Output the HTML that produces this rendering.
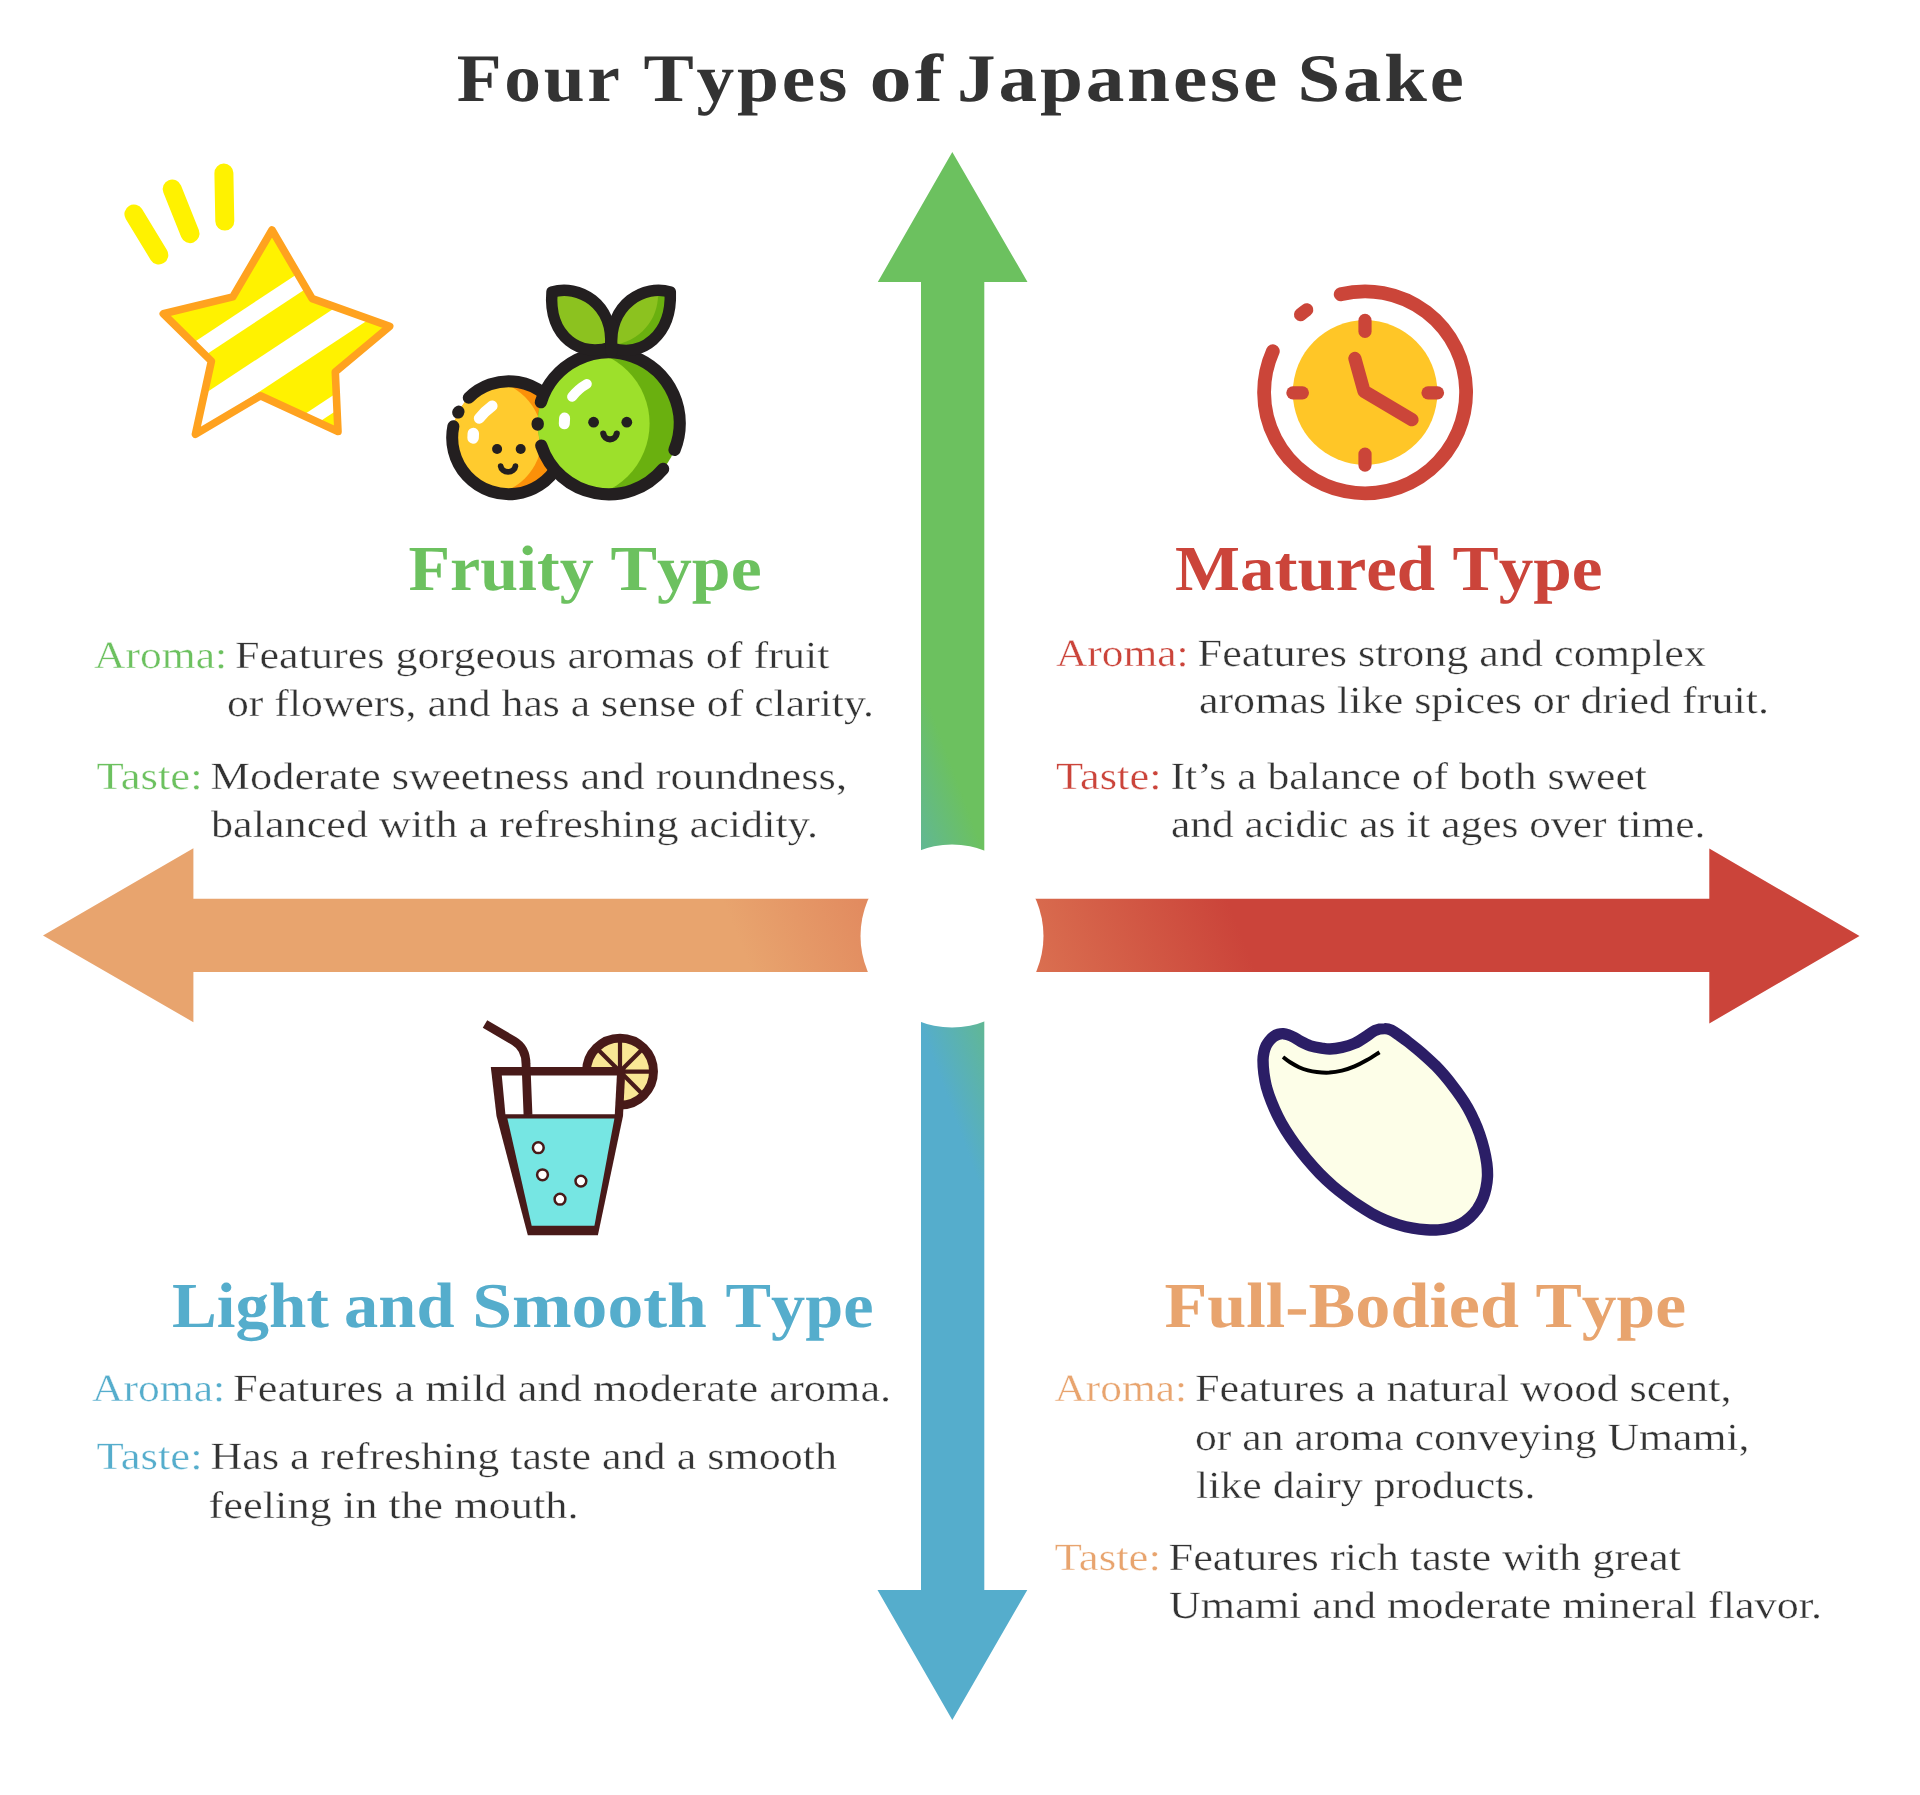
<!DOCTYPE html>
<html><head><meta charset="utf-8"><title>Four Types of Japanese Sake</title>
<style>
html,body{margin:0;padding:0;background:#fff;}
body{width:1920px;height:1795px;overflow:hidden;font-family:"Liberation Serif",serif;}
svg{display:block;}
text{font-family:"Liberation Serif",serif;text-rendering:geometricPrecision;}
.b{font-weight:bold;}
.t{stroke:#fff;stroke-width:0.35px;}
</style></head><body>
<svg width="1920" height="1795" viewBox="0 0 1920 1795">
<defs>
<linearGradient id="gv" gradientUnits="userSpaceOnUse" x1="1007.4" y1="915.5" x2="895.0" y2="957.1"><stop offset="0" stop-color="#6cc15f"/><stop offset="1" stop-color="#55adcc"/></linearGradient>
<linearGradient id="gh" gradientUnits="userSpaceOnUse" x1="766.7" y1="1010.1" x2="1202.0" y2="836.0"><stop offset="0" stop-color="#e8a46e"/><stop offset="0.45" stop-color="#de7b56"/><stop offset="1" stop-color="#cb443a"/></linearGradient>
<clipPath id="cstar"><polygon points="272.0,230.0 312.2,298.7 389.7,326.3 335.3,371.8 338.0,431.5 260.5,395.8 195.4,434.2 211.4,361.1 163.3,313.8 232.8,296.9"/></clipPath>
<clipPath id="cyel"><circle cx="508.7" cy="437.7" r="56.5"/></clipPath>
<clipPath id="cgrn"><circle cx="608.7" cy="423.3" r="71"/></clipPath>
<clipPath id="cleafR"><path d="M611.5,348 C609,303 645,284 670.3,292 C672,335 642,358 611.5,348 Z"/></clipPath>
</defs>
<mask id="mc"><rect x="0" y="0" width="1920" height="1795" fill="#fff"/><circle cx="952" cy="936" r="91.5" fill="#000"/></mask>
<g mask="url(#mc)">
<polygon fill="url(#gv)" points="952.3,152 1027.5,282 984.3,282 984.3,1590 1027.3,1590 952.3,1720 877.5,1590 921,1590 921,282 877.8,282"/>
<polygon fill="url(#gh)" points="43,935.5 193.4,848.3 193.4,898.7 1709.3,898.7 1709.3,848.5 1859.5,936 1709.3,1023.5 1709.3,972 193.4,972 193.4,1022.2"/>
</g>
<g opacity="0.999">
<text x="456.8" y="101.0" font-size="68.0" fill="#333333" class="b" textLength="165.8" lengthAdjust="spacingAndGlyphs" style="font-kerning:none" letter-spacing="2.5">Four</text>
<text x="643.5" y="101.0" font-size="68.0" fill="#333333" class="b" textLength="206.5" lengthAdjust="spacingAndGlyphs" style="font-kerning:none" letter-spacing="2.5">Types</text>
<text x="869.6" y="101.0" font-size="68.0" fill="#333333" class="b" textLength="76.4" lengthAdjust="spacingAndGlyphs" style="font-kerning:none" letter-spacing="2.5">of</text>
<text x="957.0" y="101.0" font-size="68.0" fill="#333333" class="b" textLength="323.0" lengthAdjust="spacingAndGlyphs" style="font-kerning:none" letter-spacing="2.5">Japanese</text>
<text x="1297.5" y="101.0" font-size="68.0" fill="#333333" class="b" textLength="169.0" lengthAdjust="spacingAndGlyphs" style="font-kerning:none" letter-spacing="2.5">Sake</text>
<text x="408.4" y="589.6" font-size="64.0" fill="#6cc15f" class="b" textLength="185.3" lengthAdjust="spacingAndGlyphs" style="font-kerning:none">Fruity</text>
<text x="610.5" y="589.6" font-size="64.0" fill="#6cc15f" class="b" textLength="151.1" lengthAdjust="spacingAndGlyphs" style="font-kerning:none">Type</text>
<text x="1175.1" y="589.6" font-size="64.0" fill="#cb443a" class="b" textLength="260.0" lengthAdjust="spacingAndGlyphs" style="font-kerning:none">Matured</text>
<text x="1452.5" y="589.6" font-size="64.0" fill="#cb443a" class="b" textLength="150.1" lengthAdjust="spacingAndGlyphs" style="font-kerning:none">Type</text>
<text x="172.1" y="1326.6" font-size="64.0" fill="#55adcc" class="b" textLength="156.7" lengthAdjust="spacingAndGlyphs" style="font-kerning:none">Light</text>
<text x="344.1" y="1326.6" font-size="64.0" fill="#55adcc" class="b" textLength="110.4" lengthAdjust="spacingAndGlyphs" style="font-kerning:none">and</text>
<text x="472.2" y="1326.6" font-size="64.0" fill="#55adcc" class="b" textLength="234.6" lengthAdjust="spacingAndGlyphs" style="font-kerning:none">Smooth</text>
<text x="725.5" y="1326.6" font-size="64.0" fill="#55adcc" class="b" textLength="148.1" lengthAdjust="spacingAndGlyphs" style="font-kerning:none">Type</text>
<text x="1164.4" y="1326.6" font-size="64.0" fill="#e8a46e" class="b" textLength="354.6" lengthAdjust="spacingAndGlyphs" style="font-kerning:none">Full-Bodied</text>
<text x="1535.5" y="1326.6" font-size="64.0" fill="#e8a46e" class="b" textLength="150.6" lengthAdjust="spacingAndGlyphs" style="font-kerning:none">Type</text>
<text x="94.1" y="667.7" font-size="38.5" fill="#6cc15f" class="t" textLength="133.0" lengthAdjust="spacingAndGlyphs" >Aroma:</text>
<text x="235.0" y="667.7" font-size="38.5" fill="#333333" class="t" textLength="594.5" lengthAdjust="spacingAndGlyphs" >Features gorgeous aromas of fruit</text>
<text x="227.0" y="715.8" font-size="38.5" fill="#333333" class="t" textLength="647.0" lengthAdjust="spacingAndGlyphs" >or flowers, and has a sense of clarity.</text>
<text x="96.5" y="789.3" font-size="38.5" fill="#6cc15f" class="t" textLength="106.1" lengthAdjust="spacingAndGlyphs" >Taste:</text>
<text x="210.5" y="789.3" font-size="38.5" fill="#333333" class="t" textLength="636.5" lengthAdjust="spacingAndGlyphs" >Moderate sweetness and roundness,</text>
<text x="211.0" y="837.4" font-size="38.5" fill="#333333" class="t" textLength="607.0" lengthAdjust="spacingAndGlyphs" >balanced with a refreshing acidity.</text>
<text x="1056.0" y="665.7" font-size="38.5" fill="#cb443a" class="t" textLength="132.5" lengthAdjust="spacingAndGlyphs" >Aroma:</text>
<text x="1197.6" y="665.7" font-size="38.5" fill="#333333" class="t" textLength="508.4" lengthAdjust="spacingAndGlyphs" >Features strong and complex</text>
<text x="1198.9" y="713.3" font-size="38.5" fill="#333333" class="t" textLength="570.1" lengthAdjust="spacingAndGlyphs" >aromas like spices or dried fruit.</text>
<text x="1056.0" y="789.4" font-size="38.5" fill="#cb443a" class="t" textLength="105.5" lengthAdjust="spacingAndGlyphs" >Taste:</text>
<text x="1170.5" y="789.4" font-size="38.5" fill="#333333" class="t" textLength="476.5" lengthAdjust="spacingAndGlyphs" >It’s a balance of both sweet</text>
<text x="1171.0" y="837.2" font-size="38.5" fill="#333333" class="t" textLength="534.5" lengthAdjust="spacingAndGlyphs" >and acidic as it ages over time.</text>
<text x="92.0" y="1401.3" font-size="38.5" fill="#55adcc" class="t" textLength="133.1" lengthAdjust="spacingAndGlyphs" >Aroma:</text>
<text x="233.0" y="1401.3" font-size="38.5" fill="#333333" class="t" textLength="658.2" lengthAdjust="spacingAndGlyphs" >Features a mild and moderate aroma.</text>
<text x="96.5" y="1469.3" font-size="38.5" fill="#55adcc" class="t" textLength="106.1" lengthAdjust="spacingAndGlyphs" >Taste:</text>
<text x="210.5" y="1469.3" font-size="38.5" fill="#333333" class="t" textLength="626.5" lengthAdjust="spacingAndGlyphs" >Has a refreshing taste and a smooth</text>
<text x="208.5" y="1517.5" font-size="38.5" fill="#333333" class="t" textLength="370.1" lengthAdjust="spacingAndGlyphs" >feeling in the mouth.</text>
<text x="1054.5" y="1401.3" font-size="38.5" fill="#e8a46e" class="t" textLength="132.5" lengthAdjust="spacingAndGlyphs" >Aroma:</text>
<text x="1195.0" y="1401.3" font-size="38.5" fill="#333333" class="t" textLength="536.5" lengthAdjust="spacingAndGlyphs" >Features a natural wood scent,</text>
<text x="1195.0" y="1449.5" font-size="38.5" fill="#333333" class="t" textLength="554.5" lengthAdjust="spacingAndGlyphs" >or an aroma conveying Umami,</text>
<text x="1196.0" y="1497.5" font-size="38.5" fill="#333333" class="t" textLength="339.5" lengthAdjust="spacingAndGlyphs" >like dairy products.</text>
<text x="1054.5" y="1569.5" font-size="38.5" fill="#e8a46e" class="t" textLength="106.5" lengthAdjust="spacingAndGlyphs" >Taste:</text>
<text x="1168.5" y="1569.5" font-size="38.5" fill="#333333" class="t" textLength="512.5" lengthAdjust="spacingAndGlyphs" >Features rich taste with great</text>
<text x="1169.0" y="1617.5" font-size="38.5" fill="#333333" class="t" textLength="653.0" lengthAdjust="spacingAndGlyphs" >Umami and moderate mineral flavor.</text>
</g>
<g>
<g stroke="#fff200" stroke-width="19" stroke-linecap="round"><line x1="133.9" y1="214" x2="158.8" y2="255"/><line x1="172.2" y1="189" x2="190" y2="233.6"/><line x1="223.9" y1="173" x2="224.8" y2="221.1"/></g>
<polygon points="272.0,230.0 312.2,298.7 389.7,326.3 335.3,371.8 338.0,431.5 260.5,395.8 195.4,434.2 211.4,361.1 163.3,313.8 232.8,296.9" fill="#fff200"/>
<g clip-path="url(#cstar)" fill="#fff">
<polygon points="-34.2,492.8 800.4,-58.0 809.8,-43.8 -24.8,507.0"/>
<polygon points="-7.3,533.6 827.3,-17.2 843.0,6.5 8.4,557.3"/>
<polygon points="32.5,593.8 867.1,43.0 875.0,55.1 40.4,605.9"/>
</g>
<polygon points="272.0,230.0 312.2,298.7 389.7,326.3 335.3,371.8 338.0,431.5 260.5,395.8 195.4,434.2 211.4,361.1 163.3,313.8 232.8,296.9" fill="none" stroke="#ffa21f" stroke-width="7.6" stroke-linejoin="round"/>
</g>
<g>
<circle cx="508.7" cy="437.7" r="56.5" fill="#fb9009"/>
<g clip-path="url(#cyel)"><circle cx="484.4" cy="437.6" r="57.5" fill="#ffcb2e"/></g>
<g fill="none" stroke="#231f20" stroke-width="12" stroke-linecap="round">
<path d="M468.75,397.75 A56.50,56.50 0 1 1 453.37,426.24"/>
<path d="M458.14,412.49 A56.50,56.50 0 0 1 458.58,411.61"/>
</g>
<g stroke="#fff" stroke-linecap="round" fill="none"><path d="M479.2,418.3 Q485,411.2 492.2,405.9" stroke-width="10.8"/><path d="M473.3,433.6 L473.1,437.9" stroke-width="11.5"/></g>
<circle cx="497.1" cy="449" r="5" fill="#231f20"/><circle cx="520.7" cy="449" r="5" fill="#231f20"/>
<path d="M515.41,466.16 A7.40,6.30 0 0 1 500.69,466.16" fill="none" stroke="#231f20" stroke-width="5.8" stroke-linecap="round"/>
<circle cx="608.7" cy="423.3" r="71" fill="#6ab00f"/>
<g clip-path="url(#cgrn)"><circle cx="575.2" cy="423.6" r="74.4" fill="#9de02b"/></g>
<g fill="none" stroke="#231f20" stroke-width="12.3" stroke-linecap="round">
<path d="M540.91,402.19 A71.00,71.00 0 1 1 674.53,449.90"/>
<path d="M663.09,468.94 A71.00,71.00 0 0 1 541.29,445.59"/>
<path d="M537.71,424.54 A71.00,71.00 0 0 1 537.70,423.30"/>
</g>
<g stroke="#fff" stroke-linecap="round" fill="none"><path d="M572.1,396.8 Q578,389 586.8,384" stroke-width="10"/><path d="M564.6,418.1 L564.3,423.8" stroke-width="11"/></g>
<circle cx="593.6" cy="422.2" r="5.4" fill="#231f20"/><circle cx="626.8" cy="422.2" r="5.4" fill="#231f20"/>
<path d="M616.73,433.55 A6.80,6.80 0 0 1 603.27,433.55" fill="none" stroke="#231f20" stroke-width="6.2" stroke-linecap="round"/>
<path d="M552,292 C578,284 614,303 610.6,347 C582,358 548,338 552,292 Z" fill="#8cc21f"/>
<path d="M611.5,348 C609,303 645,284 670.3,292 C672,335 642,358 611.5,348 Z" fill="#8cc21f"/>
<g clip-path="url(#cleafR)"><path d="M658,295 C658,320 640,343 608,346 L640,372 L690,330 L680,285 Z" fill="#6ab00f"/></g>
<g fill="none" stroke="#231f20" stroke-width="11.5" stroke-linejoin="round" stroke-linecap="round">
<path d="M552,292 C578,284 614,303 610.6,347 C582,358 548,338 552,292 Z"/><path d="M611.5,348 C609,303 645,284 670.3,292 C672,335 642,358 611.5,348 Z"/><path d="M611.5,324 L611.5,352"/>
</g>
</g>
<g>
<circle cx="1365.1" cy="392.5" r="72.3" fill="#ffc627"/>
<g fill="none" stroke="#cb4539" stroke-width="13.2" stroke-linecap="round" stroke-linejoin="round">
<path d="M1340.67,294.30 A101.00,101.00 0 1 1 1272.83,351.22" stroke-width="13.8"/>
<path d="M1300.58,314.59 A101.00,101.00 0 0 1 1306.74,309.87"/>
<line x1="1365" y1="320.4" x2="1365" y2="331.4"/><line x1="1365" y1="454.1" x2="1365" y2="465.1"/>
<line x1="1292.9" y1="392.8" x2="1302.4" y2="392.8"/><line x1="1428" y1="392.8" x2="1437.5" y2="392.8"/>
<path d="M1354.9,358.4 L1364,391.2 L1412,419.7"/>
</g></g>
<g>
<circle cx="620" cy="1071.6" r="33.5" fill="#f9e795" stroke="#481a19" stroke-width="8.9"/>
<g stroke="#481a19" stroke-width="4.2">
<line x1="620" y1="1071.6" x2="620.0" y2="1038.6"/>
<line x1="620" y1="1071.6" x2="596.7" y2="1048.3"/>
<line x1="620" y1="1071.6" x2="643.3" y2="1048.3"/>
<line x1="620" y1="1071.6" x2="653.0" y2="1071.6"/>
<line x1="620" y1="1071.6" x2="643.3" y2="1094.9"/>
</g>
<polygon fill="#481a19" points="490.8,1067.1 625.5,1067.1 623,1116 597.9,1235.2 527.8,1235.2 496.5,1116"/>
<polygon fill="#fff" points="501.8,1075.4 616.9,1075.4 614.8,1114.2 505.4,1114.2"/>
<polygon fill="#76e6e3" points="507.4,1118.4 614.4,1118.4 594.4,1225.7 531.7,1225.7"/>
<path d="M485,1024 L514,1041 Q526,1048 526,1064 L528,1115" fill="none" stroke="#481a19" stroke-width="8.8"/>
<circle cx="538.3" cy="1147.7" r="5.4" fill="#fff" stroke="#481a19" stroke-width="2.5"/>
<circle cx="542.5" cy="1174.8" r="5.4" fill="#fff" stroke="#481a19" stroke-width="2.5"/>
<circle cx="580.9" cy="1181.1" r="5.4" fill="#fff" stroke="#481a19" stroke-width="2.5"/>
<circle cx="560.0" cy="1199.2" r="5.4" fill="#fff" stroke="#481a19" stroke-width="2.5"/>
</g>
<path d="M1283.4,1033.7 C1285.1,1033.8 1286.6,1034.2 1288.4,1034.8 C1290.2,1035.4 1292.2,1036.4 1294.3,1037.5 C1296.3,1038.6 1298.0,1040.0 1300.7,1041.4 C1303.4,1042.8 1307.0,1044.7 1310.4,1045.8 C1313.8,1046.9 1318.0,1047.6 1321.3,1048.1 C1324.6,1048.6 1326.6,1049.1 1330.0,1049.0 C1333.4,1048.9 1337.8,1048.3 1341.9,1047.4 C1346.0,1046.5 1350.3,1045.3 1354.5,1043.4 C1358.7,1041.5 1363.6,1038.1 1367.0,1035.9 C1370.4,1033.8 1372.1,1031.7 1375.0,1030.5 C1377.9,1029.3 1381.9,1028.6 1384.6,1028.6 C1387.3,1028.5 1388.8,1029.0 1391.3,1030.2 C1393.8,1031.4 1396.8,1033.7 1399.7,1035.7 C1402.5,1037.7 1405.5,1039.8 1408.4,1042.1 C1411.3,1044.4 1414.3,1046.8 1417.3,1049.2 C1420.3,1051.7 1423.2,1054.2 1426.2,1056.9 C1429.2,1059.6 1432.2,1062.4 1435.2,1065.3 C1438.1,1068.3 1441.1,1071.5 1443.9,1074.8 C1446.8,1078.1 1449.6,1081.7 1452.3,1085.2 C1455.1,1088.8 1457.8,1092.4 1460.4,1096.2 C1463.0,1099.9 1465.5,1103.8 1467.8,1107.8 C1470.1,1111.9 1472.3,1116.3 1474.2,1120.7 C1476.2,1125.0 1478.0,1129.4 1479.6,1134.0 C1481.2,1138.7 1482.7,1143.6 1483.9,1148.5 C1485.1,1153.3 1486.2,1158.7 1486.8,1163.4 C1487.4,1168.0 1487.6,1172.3 1487.5,1176.4 C1487.3,1180.5 1486.8,1184.3 1486.0,1188.0 C1485.2,1191.8 1484.1,1195.6 1482.7,1199.1 C1481.2,1202.6 1479.4,1205.9 1477.3,1209.0 C1475.1,1212.0 1472.6,1215.0 1469.8,1217.5 C1467.0,1220.0 1463.9,1222.3 1460.6,1224.0 C1457.3,1225.8 1453.6,1227.1 1449.9,1228.1 C1446.2,1229.1 1442.3,1229.6 1438.4,1229.9 C1434.4,1230.2 1430.4,1230.1 1426.1,1229.8 C1421.8,1229.5 1417.3,1229.0 1412.8,1228.2 C1408.2,1227.4 1403.4,1226.3 1398.8,1224.9 C1394.2,1223.5 1389.6,1221.9 1385.1,1220.0 C1380.6,1218.0 1376.1,1215.8 1371.7,1213.4 C1367.3,1210.9 1362.9,1208.2 1358.6,1205.3 C1354.3,1202.5 1350.1,1199.4 1345.9,1196.2 C1341.7,1193.1 1337.5,1189.9 1333.2,1186.2 C1328.9,1182.4 1324.3,1178.2 1319.9,1173.7 C1315.5,1169.1 1310.7,1163.7 1306.6,1158.8 C1302.4,1153.8 1298.4,1148.7 1294.9,1143.9 C1291.4,1139.1 1288.5,1134.7 1285.6,1130.1 C1282.8,1125.5 1280.3,1121.1 1278.0,1116.4 C1275.6,1111.7 1273.4,1106.7 1271.5,1101.9 C1269.5,1097.0 1267.8,1092.0 1266.5,1087.3 C1265.3,1082.5 1264.5,1078.0 1263.9,1073.5 C1263.3,1068.9 1263.0,1063.6 1263.0,1060.1 C1263.0,1056.6 1263.5,1054.6 1264.0,1052.2 C1264.5,1049.8 1265.3,1047.4 1266.2,1045.5 C1267.1,1043.6 1268.2,1042.2 1269.4,1040.7 C1270.6,1039.2 1272.1,1037.8 1273.6,1036.7 C1275.1,1035.6 1276.8,1034.8 1278.4,1034.3 C1280.0,1033.8 1281.7,1033.6 1283.4,1033.7 Z" fill="#fdfee8" stroke="#2b1e66" stroke-width="11.4" stroke-linejoin="round"/>
<path d="M1283.0,1057.0 C1284.2,1057.9 1287.4,1060.6 1290.1,1062.3 C1292.8,1064.0 1296.0,1065.8 1299.0,1067.2 C1302.0,1068.6 1304.9,1069.6 1307.9,1070.4 C1310.9,1071.2 1313.2,1071.7 1316.8,1072.1 C1320.4,1072.5 1325.2,1072.8 1329.4,1072.6 C1333.6,1072.3 1337.7,1071.6 1341.9,1070.6 C1346.1,1069.6 1350.3,1068.2 1354.5,1066.4 C1358.7,1064.7 1362.8,1062.5 1367.0,1060.1 C1371.2,1057.7 1377.4,1053.5 1379.5,1052.2 " fill="none" stroke="#000" stroke-width="4"/>
</svg></body></html>
